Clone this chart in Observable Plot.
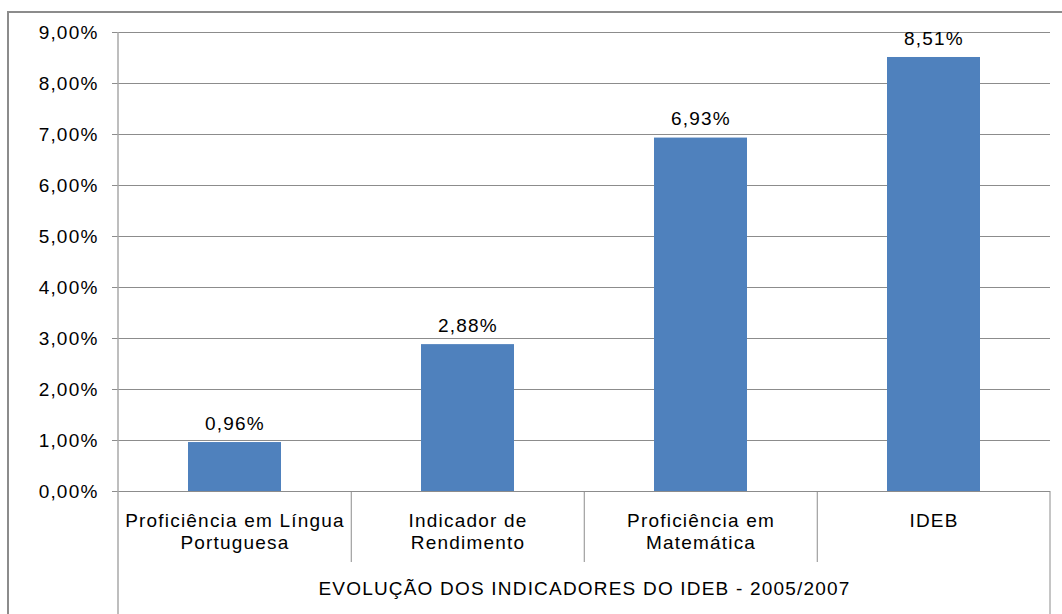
<!DOCTYPE html>
<html>
<head>
<meta charset="utf-8">
<script src="https://cdn.jsdelivr.net/npm/d3@7"></script>
<script src="https://cdn.jsdelivr.net/npm/@observablehq/plot@0.6"></script>
<style>
  html, body { margin: 0; padding: 0; background: #fff; overflow: hidden; }
  #wrap { position: relative; width: 1062px; height: 614px; overflow: hidden; }
  #border { position: absolute; left: 7px; top: 11px; width: 1200px; height: 800px; border: 2px solid #8c8c8c; }
  #chart { position: absolute; left: 0; top: 0; }
  #chart svg text { letter-spacing: 1.2px; }
</style>
</head>
<body>
<div id="wrap"><div id="border"></div><div id="chart"></div></div>
<script>
const categories = ["Proficiência em Língua Portuguesa", "Indicador de Rendimento", "Proficiência em Matemática", "IDEB"];
const categoryLabels = ["Proficiência em Língua\nPortuguesa", "Indicador de\nRendimento", "Proficiência em\nMatemática", "IDEB"];
const values = [0.96, 2.88, 6.93, 8.51];
const yTicks = [0, 1, 2, 3, 4, 5, 6, 7, 8, 9];
const title = "EVOLUÇÃO DOS INDICADORES DO IDEB - 2005/2007";

const data = categories.map((c, i) => ({cat: c, label: categoryLabels[i], value: values[i]}));
const pct = v => v.toFixed(2).replace(".", ",") + "%";
const labelOf = new Map(data.map(d => [d.cat, d.label]));
const PAD_INNER = 0.6;

// separators between categories in the label area, plus left axis line and right edge
function frameLines(index, scales, values, dims) {
  const g = d3.create("svg:g");
  const x = scales.x, y = scales.y;
  const bw = x.bandwidth();
  const step = bw / (1 - PAD_INNER);
  const y0 = y(0);
  const sepEnd = y0 + 71;
  categories.slice(1).forEach(c => {
    const bx = x(c) - (step - bw) / 2;
    g.append("line").attr("x1", bx).attr("x2", bx).attr("y1", y0).attr("y2", sepEnd)
      .attr("stroke", "#8c8c8c").attr("stroke-width", 1);
  });
  const left = dims.marginLeft, right = dims.width - dims.marginRight;
  g.append("line").attr("x1", left).attr("x2", left).attr("y1", dims.marginTop).attr("y2", dims.height)
    .attr("stroke", "#a8a8a8").attr("stroke-width", 1.5);
  g.append("line").attr("x1", right).attr("x2", right).attr("y1", y0).attr("y2", dims.height)
    .attr("stroke", "#8c8c8c").attr("stroke-width", 1);
  return g.node();
}

const chart = Plot.plot({
  width: 1062,
  height: 614,
  marginLeft: 118,
  marginRight: 12,
  marginTop: 32,
  marginBottom: 123,
  style: {fontFamily: "'Liberation Sans', Arial, sans-serif", color: "#000", background: "transparent"},
  x: {domain: categories, paddingInner: PAD_INNER, paddingOuter: 0.3},
  y: {domain: [0, 9]},
  marks: [
    Plot.ruleY(yTicks, {stroke: "#8c8c8c", strokeWidth: 1}),
    Plot.axisY(yTicks, {tickFormat: pct, tickSize: 6, tickPadding: 14, stroke: "#8c8c8c", fontSize: 19, label: null}),
    Plot.axisX({tickFormat: d => labelOf.get(d), tickSize: 0, tickPadding: 20, fontSize: 19, lineHeight: 1.16, label: null}),
    frameLines,
    Plot.barY(data, {x: "cat", y: "value", fill: "#4F81BD"}),
    Plot.text(data, {x: "cat", y: "value", text: d => pct(d.value), dy: -19, fontSize: 19, fill: "#000"}),
    Plot.text([title], {frameAnchor: "bottom", text: d => d, dy: 103, fontSize: 19, fill: "#000"})
  ]
});
document.getElementById("chart").appendChild(chart);
</script>
</body>
</html>
